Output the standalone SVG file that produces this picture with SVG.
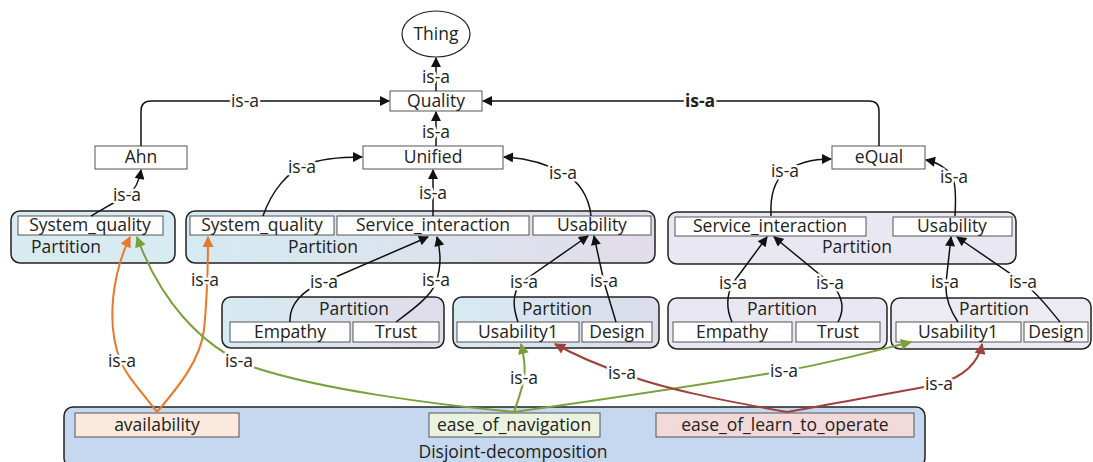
<svg xmlns="http://www.w3.org/2000/svg" width="1093" height="462" viewBox="0 0 1093 462">
<defs>
<style>
.t{font-family:"Open Sans","Liberation Sans",sans-serif;font-size:17.5px;fill:#222;text-anchor:middle}
.lbl{paint-order:stroke;stroke:#fff;stroke-width:5px;stroke-linejoin:round}
.box{stroke:#555;stroke-width:1}
.part{stroke:#222;stroke-width:1.5}
.c{fill:none;stroke:#111;stroke-width:1.5;marker-end:url(#ah)}
.co{fill:none;stroke:#e8782a;stroke-width:2;marker-end:url(#ao)}
.cg{fill:none;stroke:#7aa03c;stroke-width:2;marker-end:url(#ag)}
.cr{fill:none;stroke:#a0403a;stroke-width:2;marker-end:url(#ar)}
</style>
<marker id="ah" viewBox="0 0 10 10" refX="9" refY="5" markerWidth="11" markerHeight="10" markerUnits="userSpaceOnUse" orient="auto"><path d="M0,0 L10,5 L0,10 z" fill="#111"/></marker>
<marker id="ao" viewBox="0 0 10 10" refX="9" refY="5" markerWidth="12" markerHeight="11" markerUnits="userSpaceOnUse" orient="auto"><path d="M0,0 L10,5 L0,10 z" fill="#e8782a"/></marker>
<marker id="ag" viewBox="0 0 10 10" refX="9" refY="5" markerWidth="12" markerHeight="11" markerUnits="userSpaceOnUse" orient="auto"><path d="M0,0 L10,5 L0,10 z" fill="#7aa03c"/></marker>
<marker id="ar" viewBox="0 0 10 10" refX="9" refY="5" markerWidth="12" markerHeight="11" markerUnits="userSpaceOnUse" orient="auto"><path d="M0,0 L10,5 L0,10 z" fill="#a0403a"/></marker>
<linearGradient id="gb" x1="0" y1="0" x2="1" y2="0"><stop offset="0" stop-color="#d5eaf2"/><stop offset="1" stop-color="#e2dcea"/></linearGradient>
<linearGradient id="gs" x1="0" y1="0" x2="1" y2="0"><stop offset="0" stop-color="#d6eaf2"/><stop offset="1" stop-color="#dcdceb"/></linearGradient>
</defs>
<rect width="1093" height="462" fill="#fff"/>

<g id="thing"><ellipse cx="436" cy="34" rx="34" ry="23" fill="#fff" stroke="#222" stroke-width="1.2"/><text class="t" x="436" y="40">Thing</text></g>
<g id="quality"><rect class="box" fill="#fff" x="390" y="91" width="92" height="20"/><text class="t" x="436" y="107">Quality</text></g>
<g id="ahn"><rect class="box" fill="#fff" x="95" y="146" width="92" height="23"/><text class="t" x="141" y="163">Ahn</text></g>
<g id="unified"><rect class="box" fill="#fff" x="363" y="146" width="140" height="23"/><text class="t" x="433" y="163">Unified</text></g>
<g id="equal"><rect class="box" fill="#fff" x="832" y="146" width="93" height="23"/><text class="t" x="879" y="163">eQual</text></g>

<g id="ahn-partition"><rect class="part" x="11" y="211" width="164" height="52" rx="9" fill="#d9ebf2"/>
<rect class="box" fill="#fff" x="18" y="216" width="145" height="19"/><text class="t" x="90" y="231">System_quality</text>
<text class="t" x="31" y="253" style="text-anchor:start">Partition</text></g>

<g id="unified-partition"><rect class="part" x="186" y="211" width="469" height="52" rx="9" fill="url(#gb)"/>
<rect class="box" fill="#fff" x="190" y="216" width="144" height="19"/><text class="t" x="262" y="231">System_quality</text>
<rect class="box" fill="#fff" x="337" y="216" width="192" height="19"/><text class="t" x="433" y="231">Service_interaction</text>
<rect class="box" fill="#fff" x="533" y="216" width="118" height="19"/><text class="t" x="592" y="231">Usability</text>
<text class="t" x="323" y="253">Partition</text></g>

<g id="equal-partition"><rect class="part" x="668" y="212" width="348" height="52" rx="9" fill="#e9e7f1"/>
<rect class="box" fill="#fff" x="675" y="217" width="191" height="19"/><text class="t" x="770" y="232">Service_interaction</text>
<rect class="box" fill="#fff" x="893" y="217" width="119" height="19"/><text class="t" x="952" y="232">Usability</text>
<text class="t" x="857" y="253">Partition</text></g>

<g id="unified-si-partition"><rect class="part" x="222" y="297" width="222" height="51" rx="9" fill="url(#gb)"/>
<text class="t" x="354" y="315">Partition</text>
<rect class="box" fill="#fff" x="230" y="322" width="120" height="20"/><text class="t" x="290" y="338">Empathy</text>
<rect class="box" fill="#fff" x="353" y="322" width="86" height="20"/><text class="t" x="396" y="338">Trust</text></g>

<g id="unified-us-partition"><rect class="part" x="453" y="297" width="206" height="51" rx="9" fill="url(#gs)"/>
<text class="t" x="557" y="315">Partition</text>
<rect class="box" fill="#fff" x="457" y="322" width="122" height="20"/><text class="t" x="518" y="338">Usability1</text>
<rect class="box" fill="#fff" x="582" y="322" width="70" height="20"/><text class="t" x="617" y="338">Design</text></g>

<g id="equal-si-partition"><rect class="part" x="668" y="298" width="219" height="51" rx="9" fill="#e9e7f1"/>
<text class="t" x="782" y="315">Partition</text>
<rect class="box" fill="#fff" x="673" y="322" width="119" height="20"/><text class="t" x="732" y="338">Empathy</text>
<rect class="box" fill="#fff" x="796" y="322" width="84" height="20"/><text class="t" x="838" y="338">Trust</text></g>

<g id="equal-us-partition"><rect class="part" x="891" y="298" width="200" height="51" rx="9" fill="#ecebf3"/>
<text class="t" x="994" y="315">Partition</text>
<rect class="box" fill="#fff" x="896" y="322" width="125" height="20"/><text class="t" x="958" y="338">Usability1</text>
<rect class="box" fill="#fff" x="1024" y="322" width="64" height="20"/><text class="t" x="1056" y="338">Design</text></g>

<g id="disjoint"><rect class="part" x="64" y="407" width="861" height="60" rx="9" fill="#c6d8ef"/>
<rect class="box" x="75" y="413" width="164" height="24" fill="#fbe9dd"/><text class="t" x="157" y="431">availability</text>
<rect class="box" x="429" y="413" width="171" height="24" fill="#eaf3df"/><text class="t" x="514" y="431">ease_of_navigation</text>
<rect class="box" x="656" y="413" width="258" height="24" fill="#f3dada"/><text class="t" x="785" y="431">ease_of_learn_to_operate</text>
<text class="t" x="513" y="458">Disjoint-decomposition</text></g>

<g id="connectors">
<path class="c" d="M436,91 L436,58"/>
<path class="c" d="M436,146 L436,112"/>
<path class="c" d="M141,146 L141,111 Q141,101 151,101 L389,101"/>
<path class="c" d="M879,146 L879,111 Q879,101 869,101 L483,101"/>
<path class="c" d="M91,216 C105,208 118,200 128,195 C135,190 139,182 141,170"/>
<path class="c" d="M263,216 C272,190 288,172 305,165 C322,158 342,157 362,157"/>
<path class="c" d="M433,216 L433,170"/>
<path class="c" d="M591,216 C589,196 578,180 563,173 C545,163 525,158 504,157"/>
<path class="c" d="M771,216 C770,196 774,181 785,172 C798,162 815,159 831,159"/>
<path class="c" d="M955,216 C956,198 956,183 952,176 C945,166 936,162 926,160"/>
<path class="c" d="M290,322 C289,304 303,290 324,282 L428,237"/>
<path class="c" d="M396,322 C415,308 432,295 436,282 C441,268 441,252 437,237"/>
<path class="c" d="M518,322 C512,305 513,291 522,282 L588,236"/>
<path class="c" d="M616,322 L604,282 L594,236"/>
<path class="c" d="M732,322 C726,308 727,294 733,283 L767,237"/>
<path class="c" d="M838,322 C845,309 843,295 830,283 L774,237"/>
<path class="c" d="M958,322 C950,310 945,296 946,283 L951,237"/>
<path class="c" d="M1060,322 C1050,310 1040,296 1024,283 L957,237"/>
<path class="co" d="M157,412 C140,390 126,375 120,360 C105,320 114,270 130,237"/>
<path class="co" d="M157,412 C180,385 200,360 204,330 C207,300 208,270 208,237"/>
<path class="cg" d="M514,412 C440,405 320,390 250,366 C200,345 160,300 137,237"/>
<path class="cg" d="M514,412 C518,400 522,390 524,378 C526,366 524,356 521,344"/>
<path class="cg" d="M514,412 C600,400 700,385 784,371 C830,363 870,352 911,342"/>
<path class="cr" d="M787,412 C720,400 660,388 622,373 C595,364 575,355 555,344"/>
<path class="cr" d="M787,412 C840,402 900,392 939,384 C962,377 978,364 982,344"/>
</g>

<g id="labels" class="t lbl">
<text x="436" y="83">is-a</text>
<text x="436" y="138">is-a</text>
<text x="245" y="107">is-a</text>
<text x="700" y="107" style="font-weight:bold">is-a</text>
<text x="127" y="201">is-a</text>
<text x="302" y="173">is-a</text>
<text x="433" y="199">is-a</text>
<text x="563" y="179">is-a</text>
<text x="785" y="177">is-a</text>
<text x="954" y="183">is-a</text>
<text x="205" y="286">is-a</text>
<text x="324" y="288">is-a</text>
<text x="436" y="286">is-a</text>
<text x="524" y="288">is-a</text>
<text x="604" y="287">is-a</text>
<text x="733" y="289">is-a</text>
<text x="830" y="289">is-a</text>
<text x="945" y="288">is-a</text>
<text x="1023" y="288">is-a</text>
<text x="122" y="367">is-a</text>
<text x="239" y="367">is-a</text>
<text x="524" y="384">is-a</text>
<text x="622" y="379">is-a</text>
<text x="784" y="377">is-a</text>
<text x="939" y="390">is-a</text>
</g>
</svg>
